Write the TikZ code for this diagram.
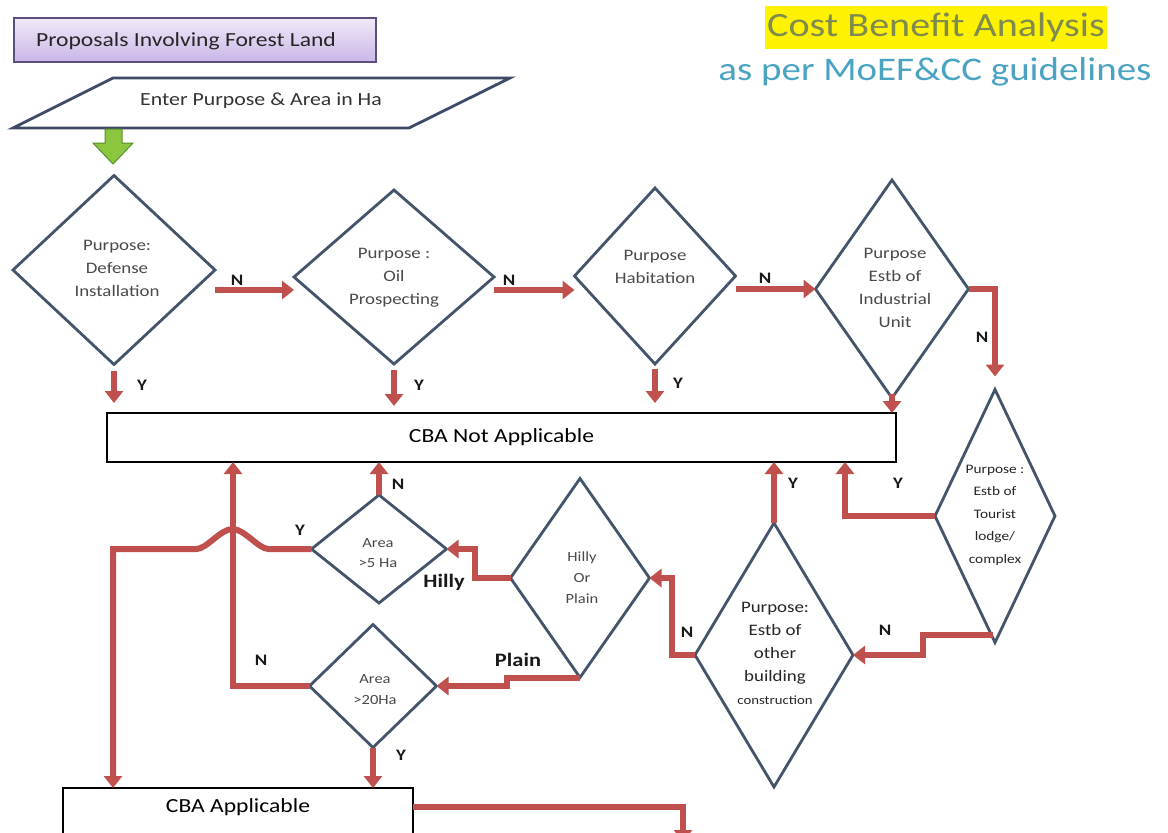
\documentclass[tikz,border=0pt]{standalone}
\usepackage{fontspec}
\setmainfont{Carlito}[FakeStretch=1.18]
\usetikzlibrary{arrows.meta,calc,shapes.geometric}
\definecolor{arrred}{HTML}{C0504D}
\definecolor{dline}{HTML}{44546A}
\definecolor{dtxt}{HTML}{4A4A4A}
\definecolor{dtxtb}{HTML}{262626}
\definecolor{ttl}{HTML}{7E8A4E}
\definecolor{subt}{HTML}{4BA3C3}
\definecolor{lavtop}{HTML}{F1EAFA}
\definecolor{lavbot}{HTML}{C9B6E6}
\definecolor{lavline}{HTML}{5E4E7E}
\definecolor{paraline}{HTML}{3E4A66}
\definecolor{grn}{HTML}{8CC63F}
\definecolor{grnd}{HTML}{5A8F2A}
\begin{document}
\begin{tikzpicture}[x=1pt,y=-1pt,
  dia/.style={draw=dline, line width=2.8pt, shape=diamond, inner sep=0pt, outer sep=0pt, fill=white},
  dtext/.style={align=center, font=\fontsize{16}{23}\selectfont, text=dtxt, inner sep=0pt},
  arr/.style={draw=arrred, line width=6pt, -{Triangle[width=18pt,length=12pt]}},
  lbl/.style={font=\fontsize{16}{16}\selectfont\bfseries, text=black!90, inner sep=0pt},
  biglbl/.style={font=\fontsize{19}{19}\selectfont\bfseries, text=black!90, inner sep=0pt},
  box/.style={draw=black, line width=2.8pt, fill=white, inner sep=0pt, outer sep=0pt},
]
\path[use as bounding box] (0,0) rectangle (1168,833);
\clip (0,0) rectangle (1168,833);
\fill[white] (0,0) rectangle (1168,833);

% title
\node[fill=yellow, inner sep=0pt, minimum width=342pt, minimum height=43pt] (hl) at (936,27) {};
\node[text=ttl, font=\fontsize{34}{34}\selectfont, inner sep=0pt] (title) at (hl) {Cost Benefit Analysis};
\node[text=subt, font=\fontsize{33}{33}\selectfont, inner sep=0pt] (subtitle) at (935,72) {as per MoEF\&CC guidelines};

% start box
\node[draw=lavline, line width=2.8pt, top color=lavtop, bottom color=lavbot, minimum width=362pt, minimum height=44pt, inner sep=0pt] (tb) at (195,40) {};
\node[font=\fontsize{20}{20}\selectfont, text=black!85, inner sep=0pt] (tbt) at (186,41) {Proposals Involving Forest Land};

% input parallelogram
\draw[draw=paraline, line width=2.8pt, fill=white] (113,78) -- (510,78) -- (409,128) -- (13,128) -- cycle;
\node[font=\fontsize{18.5}{18.5}\selectfont, text=black!80, inner sep=0pt] (inp) at (261,101) {Enter Purpose \& Area in Ha};

% green block arrow
\filldraw[fill=grn, draw=grnd, line width=1pt] (105,129) -- (122,129) -- (122,143) -- (133,143) -- (113,164) -- (93,143) -- (105,143) -- cycle;

% boxes
\node[box, minimum width=789pt, minimum height=49pt, font=\fontsize{20}{20}\selectfont] (na) at (501.5,437.5) {CBA Not Applicable};
\node[box, anchor=north west, minimum width=350pt, minimum height=60pt] (cba) at (63,788) {};
\node[font=\fontsize{20}{20}\selectfont, inner sep=0pt] (cbat) at (238,807) {CBA Applicable};

% diamonds
\node[dia, minimum width=202pt, minimum height=189pt] (d1) at (114,270) {};
\node[dia, minimum width=200pt, minimum height=174pt] (d2) at (394,277) {};
\node[dia, minimum width=161pt, minimum height=176pt] (d3) at (655,276) {};
\node[dia, minimum width=153pt, minimum height=218pt] (d4) at (892,289) {};
\node[dia, minimum width=120pt, minimum height=253pt] (d5) at (995,516) {};
\node[dia, minimum width=158pt, minimum height=264pt] (d6) at (774,655) {};
\node[dia, minimum width=139pt, minimum height=199pt] (d7) at (580,578) {};
\node[dia, minimum width=135pt, minimum height=108pt] (d8) at (379,549) {};
\node[dia, minimum width=127pt, minimum height=123pt] (d9) at (373,686) {};

\node[dtext] (t1) at (117,268) {Purpose:\\Defense\\Installation};
\node[dtext] (t2) at (394,278) {Purpose :\\Oil\\Prospecting};
\node[dtext] (t3) at (655,267) {Purpose\\Habitation};
\node[dtext] (t4) at (895,288) {Purpose\\Estb of\\Industrial\\Unit};
\node[dtext, text=dtxtb, font=\fontsize{13}{22.5}\selectfont] (t5) at (995,515) {Purpose :\\Estb of\\Tourist\\lodge/\\complex};
\node[dtext, text=dtxtb] (t6) at (775,653) {Purpose:\\Estb of\\other\\building\\{\fontsize{12.5}{23}\selectfont construction}};
\node[dtext, font=\fontsize{14}{21}\selectfont] (t7) at (582,578) {Hilly\\Or\\Plain};
\node[dtext, font=\fontsize{14}{20}\selectfont] (t8) at (378,553) {Area\\>5 Ha};
\node[dtext, font=\fontsize{14}{21}\selectfont] (t9) at (375,690) {Area\\>20Ha};

% connectors, top row
\draw[arr] (d1.east |- 0,290) -- (d2.west |- 0,290);
\draw[arr] (d2.east |- 0,290) -- (d3.west |- 0,290);
\draw[arr] (d3.east |- 0,289) -- (d4.west);
\draw[arr] (d4.east) -| ($(d5.north)+(0,-13)$);
\draw[arr] ($(d1.south)+(0,6)$) -- ($(d1.south |- na.north)+(0,-10)$);
\draw[arr] ($(d2.south)+(0,6)$) -- ($(d2.south |- na.north)+(0,-7)$);
\draw[arr] ($(d3.south)+(0,5)$) -- ($(d3.south |- na.north)+(0,-10)$);
\draw[arr] ($(d4.south)+(0,-4)$) -- (d4.south |- na.north);

% right side
\draw[arr] (d5.west) -| ($(na.south east)+(-51,0)$);
\draw[arr] (d6.north) -- (d6.north |- na.south);
\draw[arr] ($(d5.south)+(-2,-8)$) -- ++(-70,0) |- (d6.east);
\draw[arr] (d6.west) -- ++(-23,0) |- (d7.east);

% middle
\draw[arr] (d7.west) -- ++(-36,0) |- (d8.east);
\draw[arr] (d7.south) -- ++(-73,0) |- (d9.east);
\draw[arr] (d8.north) -- (d8.north |- na.south);
\draw[arr] (d9.west) -| ($(na.south west)+(126,0)$);
\draw[arr] (d9.south) -- (d9.south |- cba.north);
\draw[arr] (d8.west) -- ($(d8.west)+(-43,0)$)
   .. controls +(-10,0) and +(12,0) .. ($(d8.west)+(-79,-20)$)
   .. controls +(-12,0) and +(10,0) .. ($(d8.west)+(-115,0)$)
   -| ($(cba.north west)+(50,0)$);

% bottom exit
\coordinate (outend) at (683,842);
\draw[arr] (cba.east |- 0,807) -| (outend);

% labels
\node[lbl] (l1) at (237,280) {N};
\node[lbl] (l2) at (509,280) {N};
\node[lbl] (l3) at (765,278) {N};
\node[lbl] (l4) at (982,337) {N};
\node[lbl] (l5) at (142,385) {Y};
\node[lbl] (l6) at (419,385) {Y};
\node[lbl] (l7) at (678,383) {Y};
\node[lbl] (l8) at (885,630) {N};
\node[lbl] (l9) at (793,483) {Y};
\node[lbl] (l10) at (898,483) {Y};
\node[lbl] (l11) at (687,632) {N};
\node[lbl] (l12) at (398,484) {N};
\node[lbl] (l13) at (300,530) {Y};
\node[lbl] (l14) at (261,660) {N};
\node[lbl] (l15) at (401,755) {Y};
\node[biglbl] (hilly) at (444,582) {Hilly};
\node[biglbl] (plain) at (518,660) {Plain};
\end{tikzpicture}
\end{document}
